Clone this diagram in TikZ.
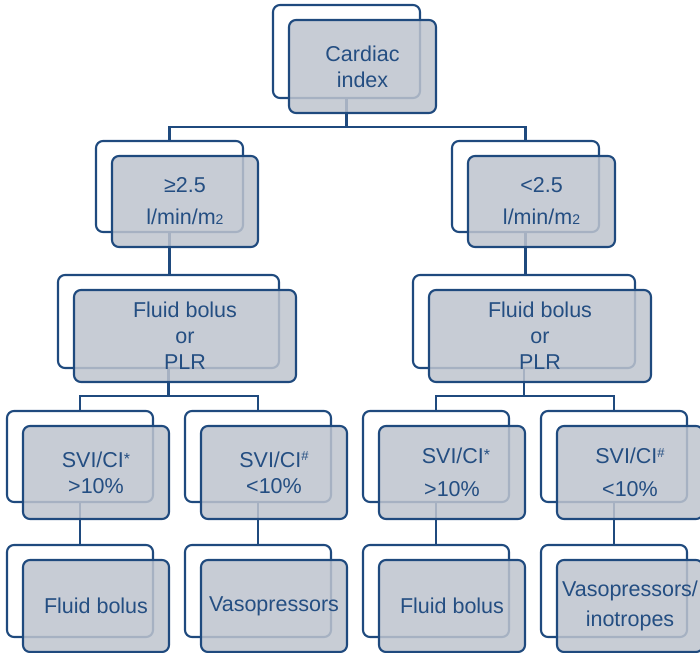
\documentclass[tikz,border=0pt]{standalone}
\usepackage{fontspec}
\setmainfont{Liberation Sans}
\definecolor{navy}{RGB}{31,74,126}
\definecolor{navytext}{RGB}{36,78,130}
\definecolor{boxgray}{RGB}{190,196,206}
\tikzset{
  backbox/.style={draw=navy, line width=2.1pt, rounded corners=7pt, fill=white,
    anchor=north west, inner sep=0pt, outer sep=0pt},
  frontbox/.style={draw=navy, line width=2.1pt, rounded corners=7pt, fill=boxgray,
    fill opacity=0.85, text opacity=1, text=navytext, anchor=north west,
    inner sep=0pt, outer sep=0pt, align=center, font=\fontsize{21.5}{26}\selectfont},
  conn/.style={draw=navy, line width=2.1pt},
  smallbox/.style={minimum width=146pt, minimum height=91pt},
}
\newcommand{\subtwo}{{\fontsize{14}{14}\selectfont 2}}
\newcommand{\supast}{\raisebox{3pt}{\fontsize{16}{16}\selectfont *}}
\newcommand{\suphash}{\raisebox{6.5pt}{\fontsize{13}{13}\selectfont \#}}
\begin{document}
\begin{tikzpicture}[x=1pt,y=-1pt]
\useasboundingbox (0,0) rectangle (700,652);
% back boxes
\node[backbox, minimum width=147pt, minimum height=93pt] (b1) at (273,5) {};
\node[backbox, minimum width=147pt, minimum height=91pt] (b2l) at (96,141) {};
\node[backbox, minimum width=147pt, minimum height=91pt] (b2r) at (452,141) {};
\node[backbox, minimum width=221pt, minimum height=93pt] (b3l) at (58,275) {};
\node[backbox, minimum width=222pt, minimum height=93pt] (b3r) at (413,275) {};
\node[backbox, smallbox] (b4a) at (7,411) {};
\node[backbox, smallbox] (b4b) at (185,411) {};
\node[backbox, smallbox] (b4c) at (363,411) {};
\node[backbox, smallbox] (b4d) at (541,411) {};
\node[backbox, smallbox, minimum height=92pt] (b5a) at (7,545) {};
\node[backbox, smallbox, minimum height=92pt] (b5b) at (185,545) {};
\node[backbox, smallbox, minimum height=92pt] (b5c) at (363,545) {};
\node[backbox, smallbox, minimum height=92pt] (b5d) at (541,545) {};
% connectors
\draw[conn] (b1.south) -- ++(0,29) -| (b2l.north);
\draw[conn] (b1.south) -- ++(0,29) -| (b2r.north);
\draw[conn] (b2l.south) -- (b2l.south |- b3l.north);
\draw[conn] (b2r.south) -- (b2r.south |- b3r.north);
\draw[conn] (b3l.south) -- ++(0,28) -| (b4a.north);
\draw[conn] (b3l.south) -- ++(0,28) -| (b4b.north);
\draw[conn] (b3r.south) -- ++(0,28) -| (b4c.north);
\draw[conn] (b3r.south) -- ++(0,28) -| (b4d.north);
\draw[conn] (b4a.south) -- (b4a.south |- b5a.north);
\draw[conn] (b4b.south) -- (b4b.south |- b5b.north);
\draw[conn] (b4c.south) -- (b4c.south |- b5c.north);
\draw[conn] (b4d.south) -- (b4d.south |- b5d.north);
% front boxes
\node[frontbox, minimum width=147pt, minimum height=93pt] (f1) at ([shift={(16,15)}]b1.north west) {Cardiac\\index};
\node[frontbox, minimum width=146pt, minimum height=91pt, font=\fontsize{21.5}{32}\selectfont] (f2l) at ([shift={(16,15)}]b2l.north west) {≥2.5\\l/min/m\subtwo};
\node[frontbox, minimum width=147pt, minimum height=91pt, font=\fontsize{21.5}{32}\selectfont] (f2r) at ([shift={(16,15)}]b2r.north west) {<2.5\\l/min/m\subtwo};
\node[frontbox, minimum width=222pt, minimum height=92pt] (f3l) at ([shift={(16,15)}]b3l.north west) {Fluid bolus\\or\\PLR};
\node[frontbox, minimum width=222pt, minimum height=92pt] (f3r) at ([shift={(16,15)}]b3r.north west) {Fluid bolus\\or\\PLR};
\node[frontbox, smallbox, minimum height=93pt] (f4a) at ([shift={(16,15)}]b4a.north west) {SVI/CI\supast\\>10\%};
\node[frontbox, smallbox, minimum height=93pt] (f4b) at ([shift={(16,15)}]b4b.north west) {SVI/CI\suphash\\<10\%};
\node[frontbox, smallbox, minimum height=93pt, font=\fontsize{21.5}{33}\selectfont] (f4c) at ([shift={(16,15)}]b4c.north west) {\hspace{8pt}SVI/CI\supast\\>10\%};
\node[frontbox, smallbox, minimum height=93pt, font=\fontsize{21.5}{33}\selectfont] (f4d) at ([shift={(16,15)}]b4d.north west) {SVI/CI\suphash\\<10\%};
\node[frontbox, smallbox, minimum height=92pt] (f5a) at ([shift={(16,15)}]b5a.north west) {Fluid bolus};
\node[frontbox, smallbox, minimum height=92pt] (f5b) at ([shift={(16,15)}]b5b.north west) {Vasopressors};
\node[frontbox, smallbox, minimum height=92pt] (f5c) at ([shift={(16,15)}]b5c.north west) {Fluid bolus};
\node[frontbox, smallbox, minimum height=92pt, font=\fontsize{21.5}{30}\selectfont] (f5d) at ([shift={(16,15)}]b5d.north west) {Vasopressors/\\inotropes};
\end{tikzpicture}
\end{document}
